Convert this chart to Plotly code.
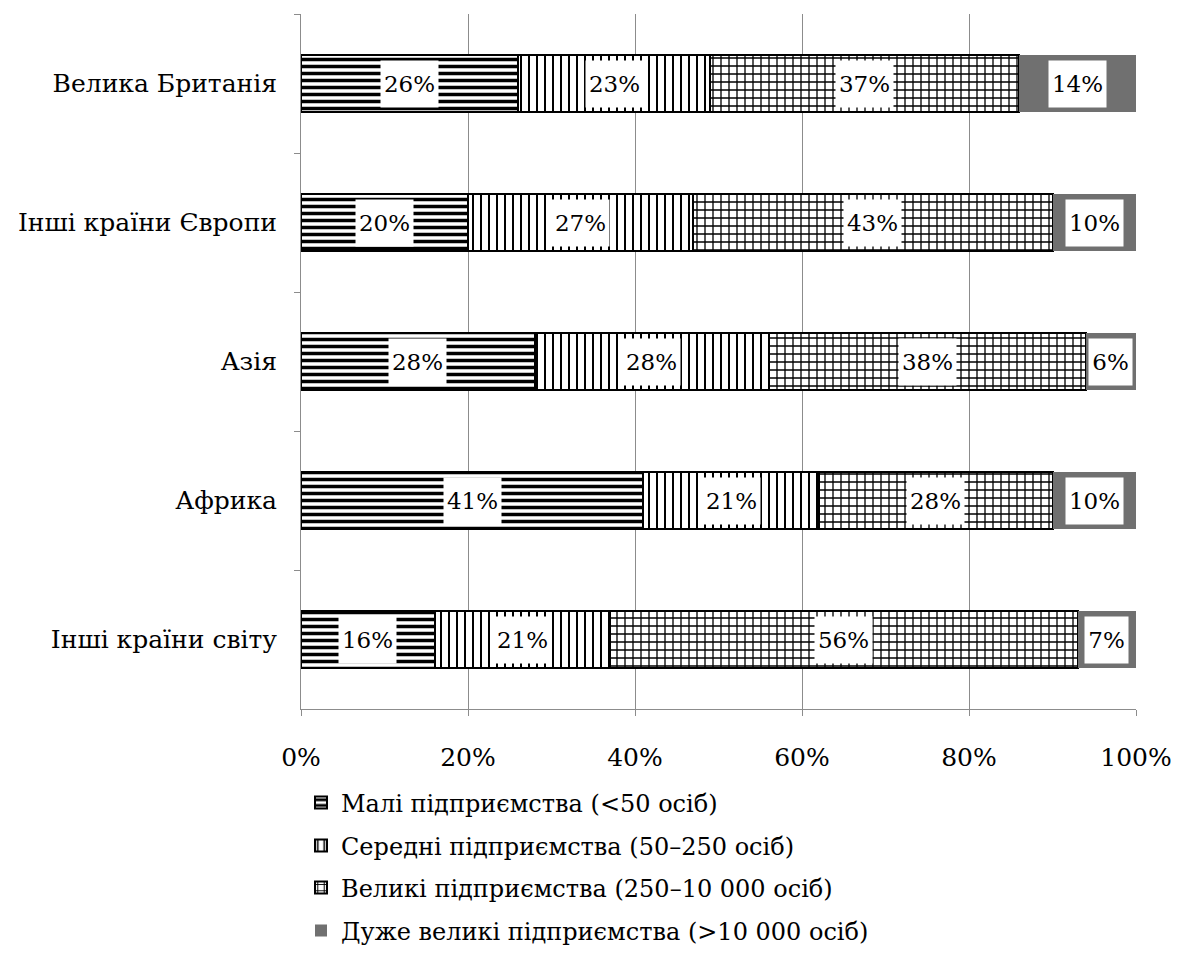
import plotly.graph_objects as go

categories = ["Велика Британія", "Інші країни Європи", "Азія", "Африка", "Інші країни світу"]
series_names = [
    "Малі підприємства (<50 осіб)",
    "Середні підприємства (50–250 осіб)",
    "Великі підприємства (250–10 000 осіб)",
    "Дуже великі підприємства (>10 000 осіб)",
]
small = [26, 20, 28, 41, 16]
medium = [23, 27, 28, 21, 21]
large = [37, 43, 38, 28, 56]
very_large = [14, 10, 6, 10, 7]
tick_vals = [0, 20, 40, 60, 80, 100]
tick_text = ["0%", "20%", "40%", "60%", "80%", "100%"]

values = [small, medium, large, very_large]
FONT = "DejaVu Serif"
W, H = 1182, 957

styles = [
    dict(shape="-", size=7, solidity=0.5, fgcolor="black", bgcolor="white", fillmode="replace"),
    dict(shape="|", size=8, solidity=0.25, fgcolor="black", bgcolor="white", fillmode="replace"),
    dict(shape="+", size=8, solidity=0.3, fgcolor="black", bgcolor="white", fillmode="replace"),
    None,
]

# one legend per series so the rows can be spaced evenly below the axis
legend_ids = ["legend", "legend2", "legend3", "legend4"]
legend_rows_px = [803, 846, 888, 931]
PLOT_TOP, PLOT_BOTTOM = 14, 709

fig = go.Figure()
for name, vals, pat, lg in zip(series_names, values, styles, legend_ids):
    if pat is not None:
        marker = dict(color="white", pattern=pat, line=dict(color="black", width=2))
    else:
        marker = dict(color="#707070", line=dict(color="#707070", width=0))
    fig.add_trace(go.Bar(
        y=categories, x=vals, name=name, orientation="h",
        marker=marker, width=0.41, hoverinfo="skip", legend=lg,
        showlegend=True,
    ))

# value labels in white boxes at the centre of each segment
annotations = []
for vals_idx, vals in enumerate(values):
    for i, cat in enumerate(categories):
        start = sum(values[k][i] for k in range(vals_idx))
        txt = f"{vals[i]}%"
        annotations.append(dict(
            x=start + vals[i] / 2, y=cat, xref="x", yref="y",
            text=txt, showarrow=False, bgcolor="white",
            width=14 * len(txt) + 15, height=46, borderpad=0,
            font=dict(family=FONT, size=23, color="black"),
        ))

legend_layout = {}
for lg, py in zip(legend_ids, legend_rows_px):
    legend_layout[lg] = dict(
        x=301 / W, y=1 - py / H, xref="container", yref="container",
        xanchor="left", yanchor="middle",
        font=dict(family=FONT, size=24, color="black"),
        itemwidth=30, bgcolor="rgba(0,0,0,0)", visible=True,
    )

fig.update_layout(
    barmode="stack",
    showlegend=True,
    width=W, height=H,
    margin=dict(l=301, r=46, t=PLOT_TOP, b=H - PLOT_BOTTOM, autoexpand=False),
    paper_bgcolor="white", plot_bgcolor="white",
    font=dict(family=FONT, color="black", size=24),
    bargap=0.59,
    annotations=annotations,
    **legend_layout,
)
fig.update_xaxes(
    range=[0, 100], tickvals=tick_vals, ticktext=tick_text,
    showgrid=True, gridcolor="#8c8c8c", gridwidth=1,
    showline=True, linecolor="#8c8c8c", linewidth=1,
    ticks="outside", ticklen=6, tickcolor="#8c8c8c",
    ticklabelstandoff=20, zeroline=False, automargin=False,
    tickfont=dict(family=FONT, size=25, color="black"),
)
fig.update_yaxes(
    autorange="reversed", type="category",
    showline=True, linecolor="#8c8c8c", linewidth=1,
    ticks="outside", ticklen=6, tickcolor="#8c8c8c", tickson="boundaries",
    showgrid=False, ticklabelstandoff=18, automargin=False,
    tickfont=dict(family=FONT, size=25, color="black"),
)

fig.write_html("out.html")
